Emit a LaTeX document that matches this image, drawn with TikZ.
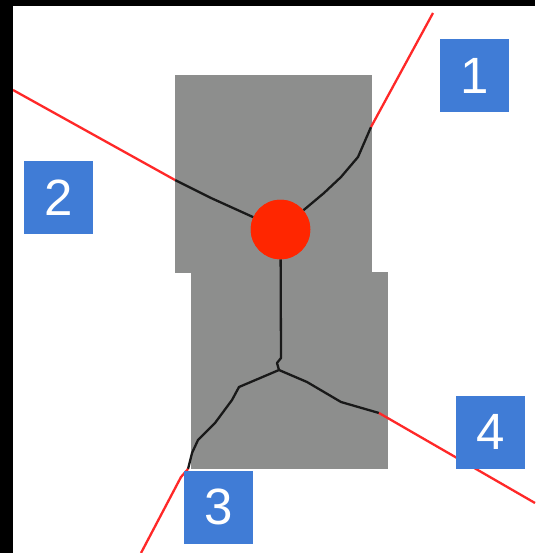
\documentclass[tikz,border=0pt]{standalone}
\usepackage{fontspec}
\setmainfont{Liberation Sans}
\definecolor{boxgray}{RGB}{141,142,141}
\definecolor{numblue}{RGB}{64,124,214}
\definecolor{dotred}{RGB}{255,38,0}
\definecolor{linered}{RGB}{255,40,40}
\begin{document}
\begin{tikzpicture}[x=1pt,y=-1pt,
  numbox/.style={fill=numblue, text=white, minimum width=69pt, minimum height=73pt, inner sep=0pt, font=\fontsize{51}{51}\selectfont},
  wire/.style={black!90, line width=2.3pt, line join=round},
  redwire/.style={linered, line width=2.3pt, line join=round},
  reddot/.style={circle, fill=dotred, minimum size=59.5pt, inner sep=0pt}]
\useasboundingbox (0,0) rectangle (535,553);
\fill[white] (0,0) rectangle (535,553);
% grey body
\fill[boxgray] (175,75) rectangle (372,272.5);
\fill[boxgray] (191,272) rectangle (388,469);
% nodes
\node[reddot] (dot) at (280.5,229.5) {};
\coordinate (j) at (279,370);
\coordinate (e1b) at (371,127);
\coordinate (e1) at (433,13);
\coordinate (e2b) at (175,180);
\coordinate (e2) at (13,90);
\coordinate (e3b) at (188,469);
\coordinate (e3) at (141,553);
\coordinate (e4b) at (379,413);
\coordinate (e4) at (535,503);
% black wires inside the body
\draw[wire] (dot) -- (324,193) -- (341,177) -- (358,157) -- (e1b);
\draw[wire] (dot) -- (211,198) -- (e2b);
\draw[wire] (dot) -- (281,358) -- (277,363) -- (j);
\draw[wire] (j) -- (239,387) -- (232,400) -- (215,423) -- (198,440) -- (192,453) -- (e3b);
\draw[wire] (j) -- (307,382) -- (341,402) -- (e4b);
% red wires outside
\draw[redwire] (e1b) -- (e1);
\draw[redwire] (e2b) -- (e2);
\draw[redwire] (e3b) -- (181,477) -- (e3);
\draw[redwire] (e4b) -- (e4);
\node[reddot] at (dot) {};
% labels
\node[numbox] (n1) at (474.5,75.5) {1};
\node[numbox] (n2) at (58.5,197.5) {2};
\node[numbox] (n3) at (218.5,507) {3};
\node[numbox] (n4) at (490.5,432) {4};
% black frame strips
\fill[black] (0,0) rectangle (535,6);
\fill[black] (0,0) rectangle (13,553);
\end{tikzpicture}
\end{document}
